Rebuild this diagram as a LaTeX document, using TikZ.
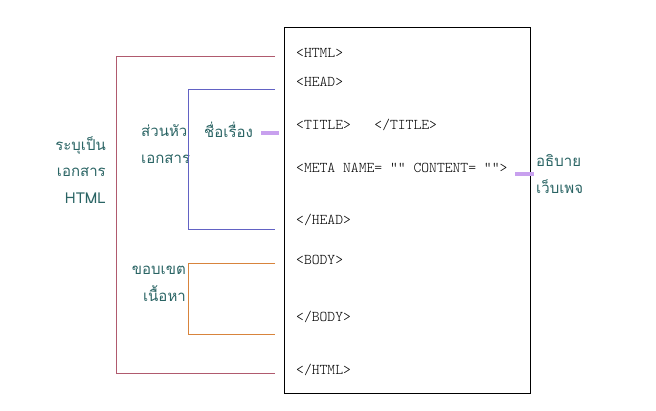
\documentclass[tikz,border=0pt]{standalone}
\usepackage{fontspec}
\setmonofont{Latin Modern Mono Light}
\newfontfamily\thaifont[Script=Thai]{Loma}
\usetikzlibrary{positioning}

\definecolor{htmlred}{HTML}{B05A6E}
\definecolor{headblue}{HTML}{6262C4}
\definecolor{bodyorange}{HTML}{D8843C}
\definecolor{tabpurple}{HTML}{C8A0EE}
\definecolor{labelteal}{HTML}{2A6464}

\begin{document}
\begin{tikzpicture}[x=1pt,y=-1pt,
  code/.style={anchor=west,inner sep=0pt,font=\ttfamily\fontsize{14.9}{17}\selectfont},
  thai/.style={inner sep=0pt,text=labelteal,font=\thaifont\fontsize{15}{26.5}\selectfont},
  redline/.style={draw=htmlred,line width=0.9pt},
  blueline/.style={draw=headblue,line width=0.9pt},
  orangeline/.style={draw=bodyorange,line width=0.9pt},
  tab/.style={draw=tabpurple,line width=3.5pt}]
\useasboundingbox (0,0) rectangle (656,411);

% page of code
\node[draw,line width=0.8pt,minimum width=246pt,minimum height=366pt,inner sep=0pt,anchor=north west] (page) at (284,27) {};
\node[code] (html) at (296,53) {<HTML>};
\node[code] (head) at (296,82) {<HEAD>};
\node[code] (title) at (296,125) {<TITLE>\ \ \ </TITLE>};
\node[code] (meta) at (296,168) {<META NAME= “” CONTENT= “”>};
\node[code] (headend) at (296,220) {</HEAD>};
\node[code] (body) at (296,260) {<BODY>};
\node[code] (bodyend) at (296,317) {</BODY>};
\node[code] (htmlend) at (296,370) {</HTML>};

% labels
\node[thai,anchor=east,align=right] (doc) at (106,170) {ระบุเป็น\\เอกสาร\\HTML};
\node[thai,anchor=west,align=left] (headlbl) at (141,144) {ส่วนหัว\\เอกสาร};
\node[thai,anchor=west] (ttl) at (204,130) {ชื่อเรื่อง};
\node[thai,anchor=east,align=right] (bodylbl) at (186,284) {ขอบเขต\\เนื้อหา};
\node[thai,anchor=west,align=left] (desc) at (536,174) {อธิบาย\\เว็บเพจ};

% brackets
\coordinate (r1) at (275,56);
\coordinate (r2) at (275,373);
\coordinate (b1) at (275,89);
\coordinate (b2) at (275,229);
\coordinate (o1) at (275,263);
\coordinate (o2) at (275,334);
\draw[redline] (r1) -- (116,56) -- (116,373) -- (r2);
\draw[blueline] (b1) -- (188,89) -- (188,229) -- (b2);
\draw[orangeline] (o1) -- (188,263) -- (188,334) -- (o2);

% tabs
\draw[tab] (261,133) -- (279,133);
\draw[tab] (515,174) -- (534,174);
\end{tikzpicture}
\end{document}
